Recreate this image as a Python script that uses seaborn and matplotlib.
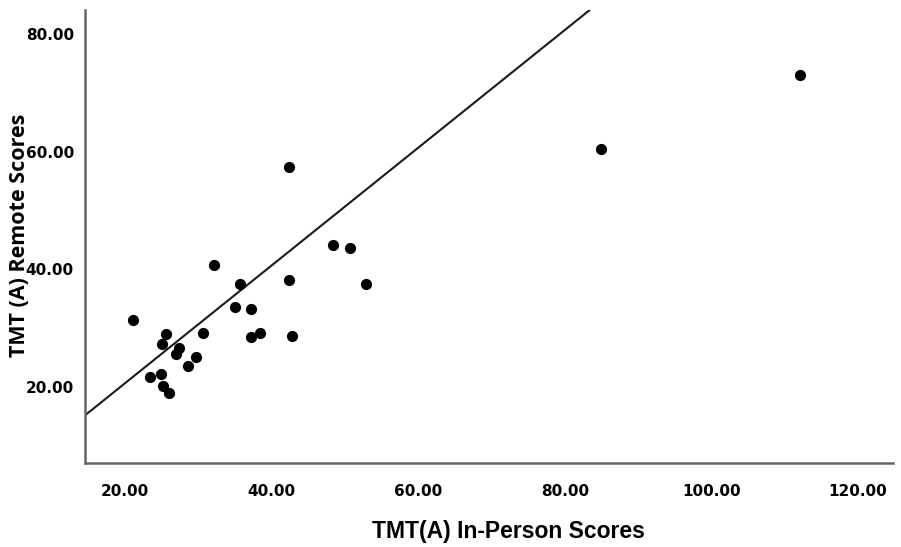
import pandas as pd
import seaborn as sns
import matplotlib.pyplot as plt

# -------------------------------
# Data
# -------------------------------
in_person = [21.05, 25.6, 25.0, 27.4, 26.9, 30.6, 29.7, 28.5, 23.4, 24.9,
             25.2, 25.9, 35.0, 37.1, 37.1, 38.4, 42.7, 35.6, 42.4, 52.9,
             42.4, 32.1, 48.4, 50.7, 85.0, 112.1]
remote = [31.4, 29.0, 27.3, 26.7, 25.7, 29.2, 25.1, 23.6, 21.75, 22.3,
          20.2, 19.0, 33.6, 33.2, 28.5, 29.2, 28.7, 37.5, 38.2, 37.5,
          57.4, 40.7, 44.1, 43.6, 60.5, 73.0]

# reference line
line_intercept = 0.7
line_slope = 1.0

x_ticks = [20, 40, 60, 80, 100, 120]
y_ticks = [20, 40, 60, 80]

df = pd.DataFrame({"in_person": in_person, "remote": remote})

# -------------------------------
# Plot
# -------------------------------
sns.set_style("white")
plt.rcParams["font.family"] = ["DejaVu Sans"]
plt.rcParams["text.color"] = "black"
plt.rcParams["axes.labelcolor"] = "black"
plt.rcParams["xtick.color"] = "black"
plt.rcParams["ytick.color"] = "black"

fig = plt.figure(figsize=(9.01, 5.47), dpi=100)
ax = fig.add_axes([85 / 901, 1 - 463 / 547, (893 - 85) / 901, (463 - 10) / 547])

sns.scatterplot(data=df, x="in_person", y="remote", color="black",
                s=65, edgecolor="black", linewidth=0, ax=ax, zorder=3)
ax.axline((0, line_intercept), slope=line_slope, color="#1a1a1a", lw=1.5, zorder=2)

ax.set_xlim(14.5, 124.8)
ax.set_ylim(7.1, 84.1)
ax.set_xticks(x_ticks)
ax.set_yticks(y_ticks)
ax.set_xticklabels([f"{v:.2f}" for v in x_ticks], fontweight="bold", fontsize=11)
ax.set_yticklabels([f"{v:.2f}" for v in y_ticks], fontweight="bold", fontsize=11)

ax.tick_params(axis="x", direction="in", length=3, width=1.2, pad=15, color="#333333")
ax.tick_params(axis="y", direction="out", length=3, width=1.2, pad=5, color="#333333")

sns.despine(ax=ax)
for side in ["left", "bottom"]:
    ax.spines[side].set_color("#666666")
    ax.spines[side].set_linewidth(1.8)

ax.set_xlabel("TMT(A) In-Person Scores", fontsize=16.5, fontweight="bold",
              family="Liberation Sans")
ax.set_ylabel("TMT (A) Remote Scores", fontsize=15.5, fontweight="bold",
              family="Open Sans")
ax.xaxis.set_label_coords((508 - 85) / (893 - 85), -(520 - 463) / (463 - 10))
ax.yaxis.set_label_coords(-(85 - 30) / (893 - 85), (463 - 235) / (463 - 10))

plt.savefig("out.png", dpi=100)
plt.close()
